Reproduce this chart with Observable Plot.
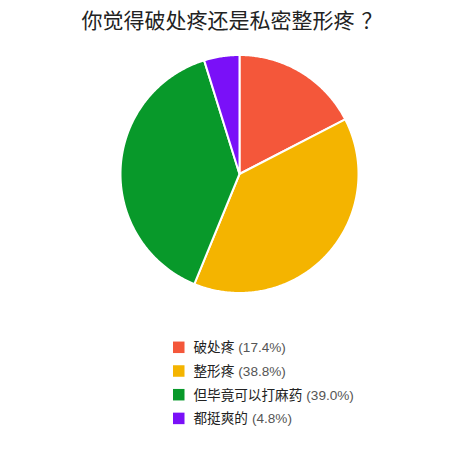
<!DOCTYPE html>
<html>
<head>
<meta charset="utf-8">
<script src="https://cdn.jsdelivr.net/npm/d3@7"></script>
<script src="https://cdn.jsdelivr.net/npm/@observablehq/plot@0.6"></script>
<style>
  html, body { margin: 0; padding: 0; background: #fff; }
  #chart svg { display: block; }
</style>
</head>
<body>
<div id="chart"></div>
<script>
const titleMain = "你觉得破处疼还是私密整形疼";
const titleMark = "？";
const categories = ["破处疼", "整形疼", "但毕竟可以打麻药", "都挺爽的"];
const values = [17.4, 38.8, 39.0, 4.8];
const percentLabels = ["(17.4%)", "(38.8%)", "(39.0%)", "(4.8%)"];
const colors = ["#F4573A", "#F4B400", "#08992A", "#7A10F8"];

// Pie geometry (layout)
const W = 476, H = 464;
const cx = 239, cy = 173.5, R = 119;

const pie = d3.pie().sort(null).value(d => d.value)(
  categories.map((c, i) => ({ name: c, value: values[i] }))
);

// polygon points for each slice, computed from pie angles
const slicePts = [];
pie.forEach(a => {
  const n = Math.max(2, Math.ceil((a.endAngle - a.startAngle) / 0.01));
  slicePts.push({ name: a.data.name, x: cx, y: cy });
  for (let k = 0; k <= n; k++) {
    const t = a.startAngle + (a.endAngle - a.startAngle) * k / n;
    slicePts.push({ name: a.data.name, x: cx + R * Math.sin(t), y: cy - R * Math.cos(t) });
  }
  slicePts.push({ name: a.data.name, x: cx, y: cy });
});

const legendX = 173, legendY0 = 347.3, legendDy = 23.7, fs = 13.6;
const legend = categories.map((c, i) => ({ name: c, pct: percentLabels[i], i }));

const chart = Plot.plot({
  width: W,
  height: H,
  margin: 0,
  x: { domain: [0, W], range: [0, W], axis: null },
  y: { domain: [0, H], range: [0, H], axis: null },
  color: { domain: categories, range: colors },
  style: { fontFamily: "'Noto Sans CJK SC', 'Noto Sans', sans-serif", background: "#fff" },
  marks: [
    Plot.line(slicePts, {
      x: "x", y: "y", z: "name", fill: "name",
      stroke: "#fff", strokeWidth: 2, strokeLinejoin: "round", curve: "linear"
    }),
    Plot.text([titleMain], {
      x: () => 81, y: () => 21, text: d => d, textAnchor: "start",
      fontSize: 21, fill: "#222"
    }),
    Plot.text([titleMark], {
      x: () => 361, y: () => 21, text: d => d, textAnchor: "start",
      fontSize: 21, fill: "#222"
    }),
    Plot.rect(legend, {
      x1: () => legendX, x2: () => legendX + 11.5,
      y1: d => legendY0 + d.i * legendDy - 5.75, y2: d => legendY0 + d.i * legendDy + 5.75,
      fill: "name"
    }),
    Plot.text(legend, {
      x: () => 193, y: d => legendY0 + d.i * legendDy, text: "name",
      textAnchor: "start", fontSize: fs, fill: "#222"
    }),
    Plot.text(legend, {
      x: d => 193 + d.name.length * fs + 4, y: d => legendY0 + d.i * legendDy, text: "pct",
      textAnchor: "start", fontSize: fs, fill: "#555",
      fontFamily: "Arial, 'Liberation Sans', sans-serif"
    })
  ]
});

document.getElementById("chart").appendChild(chart);
</script>
</body>
</html>
